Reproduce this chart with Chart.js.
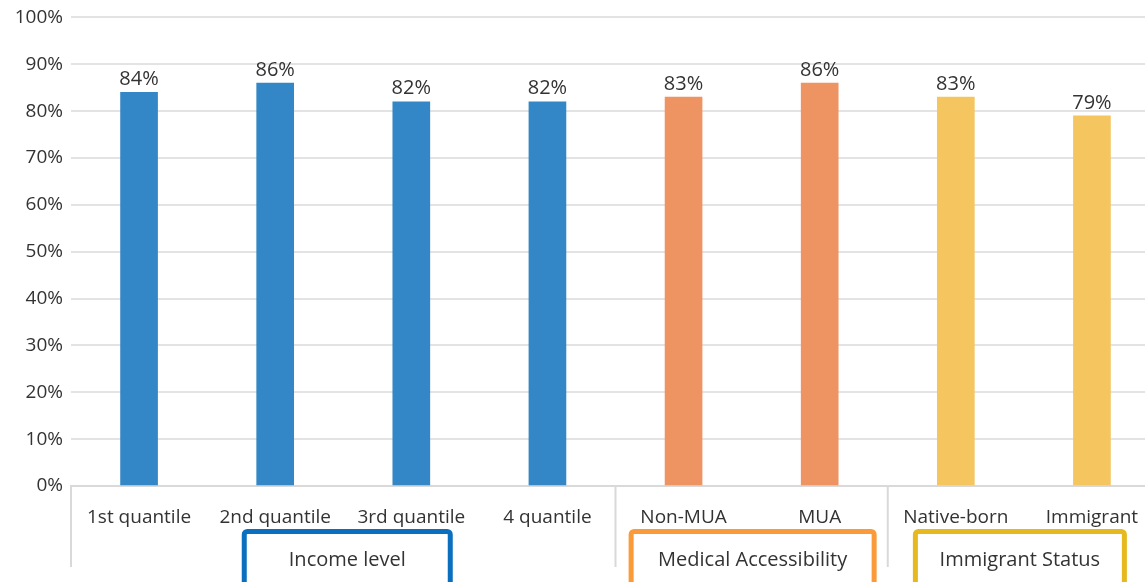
<!DOCTYPE html>
<html>
<head>
<meta charset="utf-8">
<script src="https://cdn.jsdelivr.net/npm/chart.js@4.4.1/dist/chart.umd.min.js"></script>
<style>
    html, body { margin: 0; padding: 0; background: #fff; overflow: hidden; }
    #wrap { width: 1160px; height: 584px; margin-top: -2px; }
</style>
</head>
<body>
<div id="wrap"><canvas id="chart" width="1160" height="584"></canvas></div>
<script>
// Data
const categories = ['1st quantile', '2nd quantile', '3rd quantile', '4 quantile', 'Non-MUA', 'MUA', 'Native-born', 'Immigrant'];
const values = [84, 86, 82, 82, 83, 86, 83, 79];
const groupNames = ['Income level', 'Medical Accessibility', 'Immigrant Status'];
const groupSizes = [4, 2, 2];

// Styles
const groupFill = ['#3387c6', '#ee9362', '#f5c55f'];
const groupBorder = ['#0a6fbf', '#fb9a38', '#e6b91e'];
const boxWidths = [211, 248, 214];
const boxShift = [4, 1, -4];
const textColor = '#333333';
const fontFamily = "'Open Sans', sans-serif";

const barColors = [];
groupSizes.forEach((n, g) => { for (let i = 0; i < n; i++) barColors.push(groupFill[g]); });

// value labels above bars
const valueLabels = {
    id: 'valueLabels',
    afterDatasetsDraw(chart) {
        const ctx = chart.ctx;
        ctx.save();
        ctx.font = '20px ' + fontFamily;
        ctx.fillStyle = textColor;
        ctx.textAlign = 'center';
        ctx.textBaseline = 'bottom';
        chart.getDatasetMeta(0).data.forEach((bar, i) => {
            ctx.fillText(values[i] + '%', bar.x, bar.y - 3);
        });
        ctx.restore();
    }
};

// group separators + boxed group titles under the axis
const groupAxis = {
    id: 'groupAxis',
    afterDraw(chart) {
        const ctx = chart.ctx;
        const x = chart.scales.x;
        const area = chart.chartArea;
        const step = (x.right - x.left) / categories.length;
        ctx.save();
        ctx.strokeStyle = '#d9d9d9';
        ctx.lineWidth = 2;
        let start = 0;
        groupSizes.forEach((n, g) => {
            const left = x.left + start * step;
            ctx.beginPath();
            ctx.moveTo(left, area.bottom);
            ctx.lineTo(left, area.bottom + 81);
            ctx.stroke();
            start += n;
        });

        start = 0;
        groupSizes.forEach((n, g) => {
            const mid = x.left + (start + n / 2) * step + boxShift[g];
            const w = boxWidths[g];
            ctx.strokeStyle = groupBorder[g];
            ctx.lineWidth = 5;
            ctx.beginPath();
            ctx.roundRect(mid - w / 2 + 2.5, area.bottom + 45.5, w - 5, 60, 3);
            ctx.stroke();
            ctx.fillStyle = textColor;
            ctx.font = '20px ' + fontFamily;
            ctx.textAlign = 'center';
            ctx.textBaseline = 'middle';
            ctx.fillText(groupNames[g], mid, area.bottom + 74);
            start += n;
        });
        ctx.restore();
    }
};

new Chart(document.getElementById('chart').getContext('2d'), {
    type: 'bar',
    data: {
        labels: categories,
        datasets: [{
            data: values,
            backgroundColor: barColors,
            barThickness: 37
        }]
    },
    options: {
        responsive: false,
        animation: false,
        layout: { padding: { top: 6, right: 0, left: 0, bottom: 0 } },
        plugins: { legend: { display: false }, tooltip: { enabled: false } },
        scales: {
            x: {
                grid: { display: false },
                border: { display: true, color: '#d9d9d9', width: 2 },
                ticks: { color: textColor, font: { family: fontFamily, size: 19 }, padding: 12, maxRotation: 0, autoSkip: false },
                afterFit(scale) { scale.height = 96; }
            },
            y: {
                min: 0,
                max: 100,
                grid: { color: '#e3e3e3', lineWidth: 2, drawTicks: false },
                border: { display: false },
                ticks: {
                    stepSize: 10,
                    padding: 8,
                    color: textColor,
                    font: { family: fontFamily, size: 19 },
                    callback: v => v + '%'
                },
                afterFit(scale) { scale.width = 71; }
            }
        }
    },
    plugins: [valueLabels, groupAxis]
});
</script>
</body>
</html>
